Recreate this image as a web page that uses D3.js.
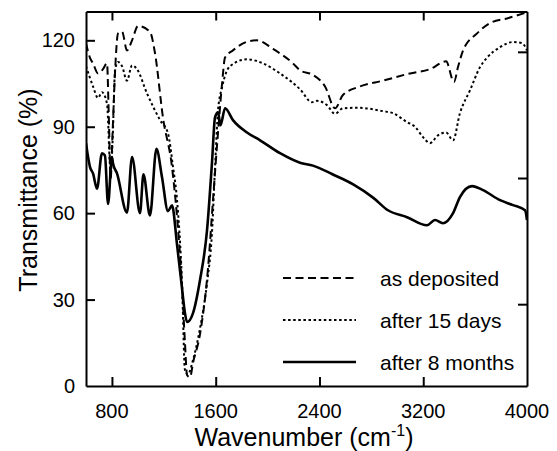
<!DOCTYPE html>
<html>
<head>
<meta charset="utf-8">
<script src="https://cdn.jsdelivr.net/npm/d3@7"></script>
<style>
  html, body { margin: 0; padding: 0; background: #fff; }
  svg { display: block; font-family: "Liberation Sans", Arial, Helvetica, sans-serif; }
</style>
</head>
<body>
<svg id="chart" width="557" height="451"></svg>
<script>
// ---- data (wavenumber cm-1, transmittance %) ----
const asDeposited = [
  [600,119],[630,114],[654,112],[693,108.5],[731,110],[762,112],[775,95],[790,72],[805,88],[825,110],
  [847,122.4],[878,123],[916,116.5],[955,120],[1001,125],[1093,123],[1132,115.5],[1194,93],[1263,76],
  [1302,58.6],[1340,35],[1363,15],[1379,3.8],[1402,3],[1425,8],[1479,18],[1541,41],[1579,64.5],
  [1618,88],[1649,105],[1672,114],[1733,116.5],[1841,119.5],[1918,120],[2042,117],[2196,112],
  [2250,109.6],[2350,108],[2443,104],[2520,96.4],[2581,101],[2713,104],[2890,106],[3098,108.5],
  [3252,110],[3376,112.7],[3437,105.5],[3468,110.7],[3507,116.5],[3615,122.4],[3715,126],
  [3846,127.6],[4000,129.7]
];
const after15Days = [
  [600,111],[630,107],[654,104],[693,100],[723,102],[762,98],[790,74],[805,85],[824,109.6],
  [847,112.5],[878,111],[916,106],[955,111.3],[993,110],[1070,101.6],[1171,92.3],[1232,87.7],
  [1271,76],[1302,64.5],[1340,36],[1363,5.5],[1385,4],[1425,9],[1479,20],[1533,35.7],[1571,53],
  [1595,76],[1618,95.7],[1649,103.7],[1710,111],[1841,113.4],[1965,112],[2096,108.5],[2250,103],
  [2342,98.5],[2381,99],[2458,97.5],[2520,94.5],[2581,96.4],[2697,96.6],[2890,95.4],[2967,94.7],
  [3075,91.6],[3137,90],[3198,86.4],[3252,84.3],[3314,87],[3376,88],[3430,85.3],[3483,94.7],
  [3561,102.7],[3638,110.7],[3692,114],[3792,117.6],[3892,119.4],[3962,119],[4000,116.5]
];
const after8Months = [
  [600,84.3],[631,76],[654,73.8],[685,68.5],[723,80.8],[746,80],[770,63.2],[800,79.5],[808,77.3],
  [839,73.8],[916,60.2],[955,79.5],[1016,60],[1043,73.5],[1093,59.2],[1143,82.3],[1186,72.5],
  [1232,60.7],[1263,62.7],[1302,49],[1325,40],[1340,34],[1363,25.3],[1379,22.2],[1425,25.3],
  [1479,36.8],[1533,54],[1571,77.3],[1595,93.3],[1618,95],[1637,90.5],[1672,96.4],[1733,92.3],
  [1841,88],[1942,85.3],[2096,80.8],[2250,77.5],[2350,76.5],[2500,73.5],[2660,70],[2813,65.4],
  [2928,61],[3075,58.6],[3229,55.8],[3291,57.6],[3352,56.5],[3430,60],[3483,65.6],[3576,69.4],
  [3661,68],[3792,64.5],[3892,62.8],[3985,61],[4000,57.6]
];
const seriesNames = ["as deposited", "after 15 days", "after 8 months"];
const xTicks = [800, 1600, 2400, 3200, 4000];
const yTicks = [0, 30, 60, 90, 120];
const rightTicks = [116, 72.2, 28.4];

// ---- layout ----
const svg = d3.select("#chart");
const x = d3.scaleLinear().domain([600, 4000]).range([86, 527]);
const y = d3.scaleLinear().domain([0, 130]).range([386, 11.5]);
const font = '"Liberation Sans", Arial, Helvetica, sans-serif';

const styles = [
  { dash: "8,4.5", width: 2 },
  { dash: "2.5,2.6", width: 2 },
  { dash: null, width: 2.6 }
];
const data = [asDeposited, after15Days, after8Months];

const line = d3.line().x(d => x(d[0])).y(d => y(d[1])).curve(d3.curveMonotoneX);

const plot = svg.append("g");
plot.append("defs").append("clipPath").attr("id", "clip")
  .append("rect").attr("x", x(600)).attr("y", y(130) - 1)
  .attr("width", x(4000) - x(600)).attr("height", y(0) - y(130) + 2);

data.forEach((ser, i) => {
  plot.append("path")
    .datum(ser)
    .attr("clip-path", "url(#clip)")
    .attr("d", line)
    .attr("fill", "none")
    .attr("stroke", "#000")
    .attr("stroke-width", styles[i].width)
    .attr("stroke-dasharray", styles[i].dash)
    .attr("stroke-linejoin", "round");
});

// ---- axes (inward ticks) ----
const tickLen = 9;
const innerX = xTicks.filter(v => v < 4000);
const axBottom = svg.append("g").attr("transform", `translate(0,${y(0)})`)
  .call(d3.axisBottom(x).tickValues(innerX).tickSizeInner(-tickLen).tickSizeOuter(0).tickFormat(""));
const axTop = svg.append("g").attr("transform", `translate(0,${y(130)})`)
  .call(d3.axisTop(x).tickValues(innerX).tickSizeInner(-tickLen).tickSizeOuter(0).tickFormat(""));
const axLeft = svg.append("g").attr("transform", `translate(${x(600)},0)`)
  .call(d3.axisLeft(y).tickValues(yTicks.filter(v => v > 0)).tickSizeInner(-tickLen).tickSizeOuter(0).tickFormat(""));
const axRight = svg.append("g").attr("transform", `translate(${x(4000)},0)`)
  .call(d3.axisRight(y).tickValues(rightTicks).tickSizeInner(-tickLen).tickSizeOuter(0).tickFormat(""));
[axBottom, axTop, axLeft, axRight].forEach(g => {
  g.selectAll("path.domain").attr("stroke", "#000").attr("stroke-width", 2);
  g.selectAll(".tick line").attr("stroke", "#000").attr("stroke-width", 2);
});

// tick labels
svg.append("g").selectAll("text").data(xTicks).join("text")
  .attr("x", d => x(d)).attr("y", 418)
  .attr("text-anchor", "middle").attr("font-size", 20).attr("font-family", font)
  .text(d => d);
svg.append("g").selectAll("text").data(yTicks).join("text")
  .attr("x", 75).attr("y", d => y(d) + 7)
  .attr("text-anchor", "end").attr("font-size", 20).attr("font-family", font)
  .text(d => d);

// axis titles
const xt = svg.append("text").attr("x", 304).attr("y", 446)
  .attr("text-anchor", "middle").attr("font-size", 25).attr("font-family", font);
xt.append("tspan").text("Wavenumber (cm");
xt.append("tspan").attr("dy", -10).attr("font-size", 16).text("-1");
xt.append("tspan").attr("dy", 10).text(")");

svg.append("text")
  .attr("transform", `translate(37,${190}) rotate(-90)`)
  .attr("text-anchor", "middle").attr("font-size", 25).attr("font-family", font)
  .text("Transmittance (%)");

// ---- legend ----
const legY = [278, 320, 362];
const leg = svg.append("g");
seriesNames.forEach((name, i) => {
  leg.append("line")
    .attr("x1", 283).attr("x2", 356).attr("y1", legY[i]).attr("y2", legY[i])
    .attr("stroke", "#000").attr("stroke-width", styles[i].width)
    .attr("stroke-dasharray", styles[i].dash);
  leg.append("text")
    .attr("x", 380).attr("y", legY[i] + 8)
    .attr("font-size", 21).attr("font-family", font)
    .text(name);
});
</script>
</body>
</html>
